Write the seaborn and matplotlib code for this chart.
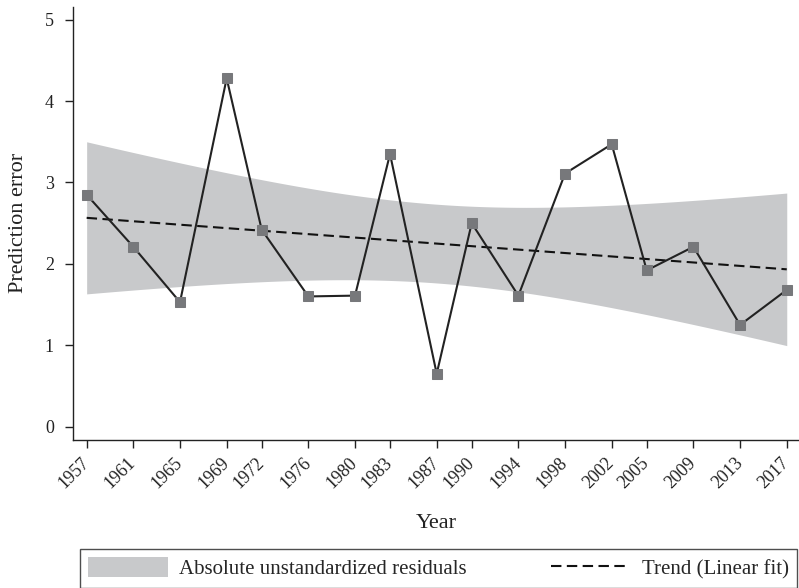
"""
Prediction error by election year, with a linear trend and its 95% CI band.
Run: python plot.py
"""
import numpy as np
import pandas as pd
import matplotlib
matplotlib.use('Agg')
import matplotlib.pyplot as plt
from matplotlib.patches import Patch
from matplotlib.lines import Line2D
import seaborn as sns

# Values
years = [1957, 1961, 1965, 1969, 1972, 1976, 1980, 1983, 1987,
         1990, 1994, 1998, 2002, 2005, 2009, 2013, 2017]
pred_error = [2.85, 2.21, 1.53, 4.28, 2.42, 1.60, 1.61, 3.35, 0.65,
              2.50, 1.61, 3.11, 3.47, 1.92, 2.21, 1.25, 1.68]
y_ticks = [0, 1, 2, 3, 4, 5]

band_label = 'Absolute unstandardized residuals'
trend_label = 'Trend (Linear fit)'

BAND_COLOR = '#c8c9cb'
MARKER_COLOR = '#77787b'
LINE_COLOR = '#222222'
TEXT_COLOR = '#222222'
T_CRIT = 2.131   # t(0.975, df=15)

sns.set_style('ticks')
plt.rcParams['font.family'] = ['Liberation Serif', 'DejaVu Serif']

df = pd.DataFrame({'Year': years, 'Prediction error': pred_error})

# Linear fit + 95% confidence band of the fitted mean
x = df['Year'].to_numpy(float)
y = df['Prediction error'].to_numpy(float)
slope, intercept = np.polyfit(x, y, 1)
resid = y - (slope * x + intercept)
n = len(x)
s = np.sqrt((resid ** 2).sum() / (n - 2))
sxx = ((x - x.mean()) ** 2).sum()
grid = np.linspace(x.min(), x.max(), 200)
fit = slope * grid + intercept
half = T_CRIT * s * np.sqrt(1 / n + (grid - x.mean()) ** 2 / sxx)
fit_df = pd.DataFrame({'Year': grid, 'fit': fit})

fig = plt.figure(figsize=(7.99, 5.88), dpi=100)
ax = fig.add_axes([73 / 799, 148 / 588, 726 / 799, 433.3 / 588])

ax.fill_between(grid, fit - half, fit + half, color=BAND_COLOR, lw=0, zorder=1)
sns.lineplot(data=fit_df, x='Year', y='fit', ax=ax, color='#111111',
             lw=1.5, zorder=2)
ax.lines[-1].set_dashes([5, 2.6])
sns.lineplot(data=df, x='Year', y='Prediction error', ax=ax, color=LINE_COLOR,
             lw=1.5, marker='s', markersize=7.5, markerfacecolor=MARKER_COLOR,
             markeredgecolor=MARKER_COLOR, zorder=3)

ax.set_xlim(1955.83, 2018.05)
ax.set_ylim(-0.164, 5.16)
ax.set_xticks(years)
ax.set_xticklabels([str(v) for v in years], rotation=45, ha='right',
                   va='center', rotation_mode='anchor')
ax.set_yticks(y_ticks)
ax.tick_params(axis='both', length=5.8, width=1, color=TEXT_COLOR,
               labelsize=13, labelcolor=TEXT_COLOR)
ax.tick_params(axis='x', pad=9)
ax.tick_params(axis='y', pad=8)
for side in ['left', 'bottom']:
    ax.spines[side].set_linewidth(1)
    ax.spines[side].set_color(TEXT_COLOR)
sns.despine(ax=ax)

ax.set_xlabel('Year', fontsize=16, labelpad=16, color=TEXT_COLOR)
ax.set_ylabel('Prediction error', fontsize=16, labelpad=12, color=TEXT_COLOR)

handles = [Patch(facecolor=BAND_COLOR, edgecolor='none'),
           Line2D([], [], color='#111111', lw=1.5, dashes=[5, 2.6])]
leg = fig.legend(handles, [band_label, trend_label], loc='upper left',
                 bbox_to_anchor=(80 / 799, 39 / 588, 717 / 799, 0),
                 mode='expand', ncol=2, fontsize=15, frameon=True,
                 fancybox=False, edgecolor=TEXT_COLOR, handlelength=3.8,
                 handleheight=1.1, borderpad=0.4, handletextpad=0.55,
                 borderaxespad=0)
leg.get_frame().set_linewidth(1)

fig.savefig('out.png', dpi=100)
